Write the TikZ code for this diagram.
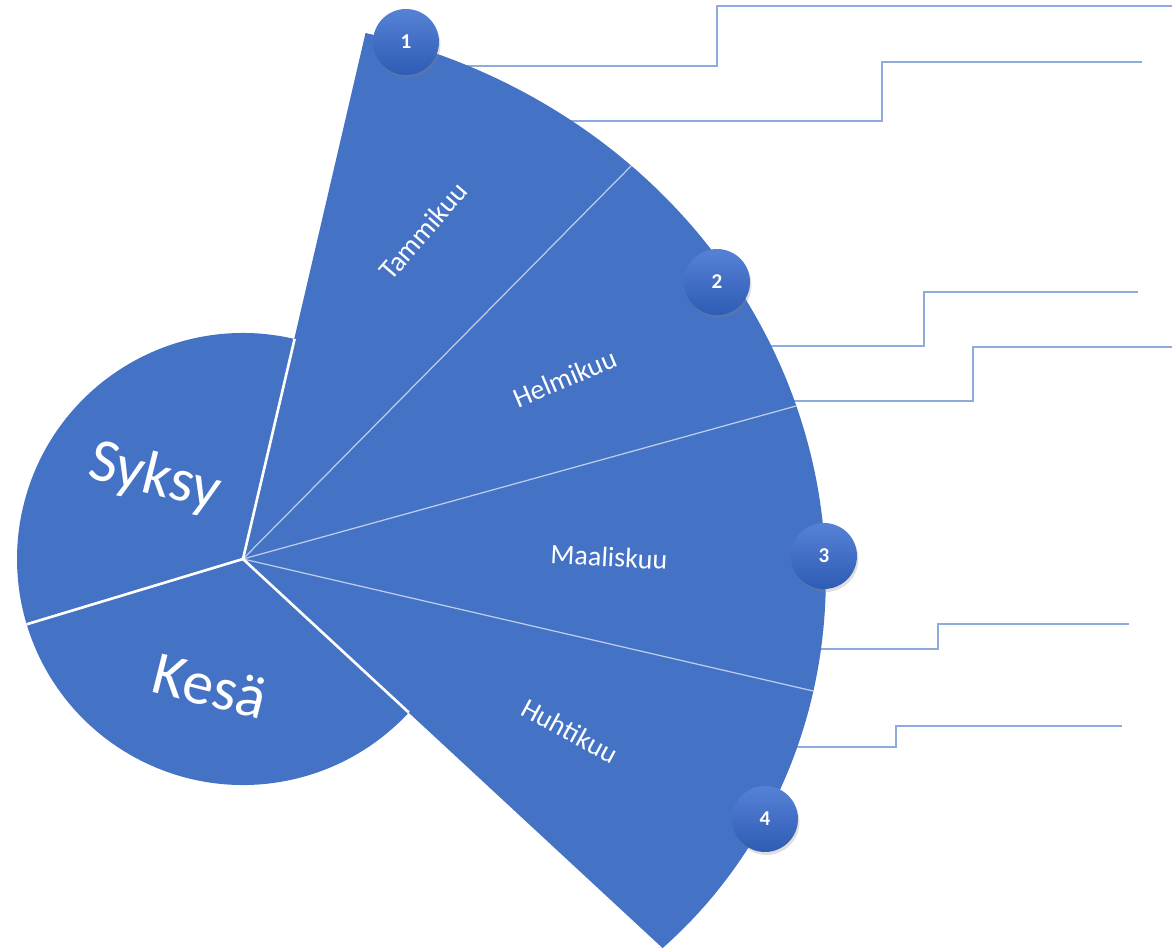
\documentclass[tikz,border=0pt]{standalone}
\usepackage{fontspec}
\setmainfont{Carlito}
\usetikzlibrary{shadows}

\definecolor{fanblue}{RGB}{68,114,196}
\definecolor{leaderblue}{RGB}{143,170,220}
\definecolor{badgetop}{RGB}{86,130,214}
\definecolor{badgebottom}{RGB}{46,92,180}

\begin{document}
\begin{tikzpicture}[
    x=0.02cm, y=0.02cm,
    declare function={fanr(\u)=528.05-3.024*((\u-18)/10)+0.1636*((\u-18)/10)*((\u-18)/10)+0.07477*((\u-18)/10)*((\u-18)/10)*((\u-18)/10);},
    sector/.style={fill=fanblue},
    month/.style={text=white, font=\fontsize{16}{19}\selectfont},
    season/.style={text=white, font=\fontsize{35}{40}\selectfont},
    badge/.style={circle, minimum size=1.32cm, inner sep=0pt, top color=badgetop, bottom color=badgebottom, text=white, font=\bfseries\fontsize{12}{14}\selectfont, drop shadow={shadow xshift=0.03cm, shadow yshift=-0.06cm, opacity=0.25}},
    leader/.style={draw=leaderblue, line width=0.8pt},
    seam/.style={draw=white, line width=1.5pt},
    divider/.style={draw=white, draw opacity=0.65, line width=0.7pt}
]

\useasboundingbox (0,0) rectangle (1172,950);

\coordinate (c) at (243,391);
\coordinate (d1) at ({292+fanr(49.5)*cos(49.5)}, {387+fanr(49.5)*sin(49.5)});
\coordinate (d2) at ({292+fanr(17.3)*cos(17.3)}, {387+fanr(17.3)*sin(17.3)});
\coordinate (d3) at ({292+fanr(-13.8)*cos(-13.8)}, {387+fanr(-13.8)*sin(-13.8)});

\coordinate (s1) at (455,884); \coordinate (k1) at (717,944); \coordinate (e1) at (1172,944);
\coordinate (s2) at (562,829); \coordinate (k2) at (882,888); \coordinate (e2) at (1142,888);
\coordinate (s3) at (762,604); \coordinate (k3) at (924,658); \coordinate (e3) at (1138,658);
\coordinate (s4) at (786,549); \coordinate (k4) at (973,603); \coordinate (e4) at (1172,603);
\coordinate (s5) at (808,301); \coordinate (k5) at (938,326); \coordinate (e5) at (1129,326);
\coordinate (s6) at (787,203); \coordinate (k6) at (896,224); \coordinate (e6) at (1122,224);

\draw [leader] (s1) -| (k1) -- (e1);
\draw [leader] (s2) -| (k2) -- (e2);
\draw [leader] (s3) -| (k3) -- (e3);
\draw [leader] (s4) -| (k4) -- (e4);
\draw [leader] (s5) -| (k5) -- (e5);
\draw [leader] (s6) -| (k6) -- (e6);

\fill [sector] (c) -- ++(76.8:226) arc (76.8:196.8:226) -- cycle;
\fill [sector] (c) -- ++(196.8:226) arc (196.8:317.2:226) -- cycle;

\fill [sector] (c) -- plot [domain=82.1:-46.1, samples=120, variable=\t] ({292+fanr(\t)*cos(\t)}, {387+fanr(\t)*sin(\t)}) -- cycle;

\draw [divider] (c) -- (d1);
\draw [divider] (c) -- (d2);
\draw [divider] (c) -- (d3);
\draw [seam] (c) -- ++(76.8:226);
\draw [seam] (c) -- ++(196.8:226);
\draw [seam] (c) -- ++(317.2:226);

\node (tammi) [month, rotate=49] at (423,719) {Tammikuu};
\node (helmi) [month, rotate=23] at (565,572) {Helmikuu};
\node (maalis) [month, rotate=-3] at (609,393) {Maaliskuu};
\node (huhti) [month, rotate=-28.5] at (570,219) {Huhtikuu};
\node (syksy) [season, rotate=-14] at (155,472) {Syksy};
\node (kesa) [season, rotate=-14] at (210,264) {Kesä};

\node (b1) [badge] at (406,908) {1};
\node (b2) [badge] at (717,668) {2};
\node (b3) [badge] at (824,394) {3};
\node (b4) [badge] at (765,131) {4};

\end{tikzpicture}
\end{document}
